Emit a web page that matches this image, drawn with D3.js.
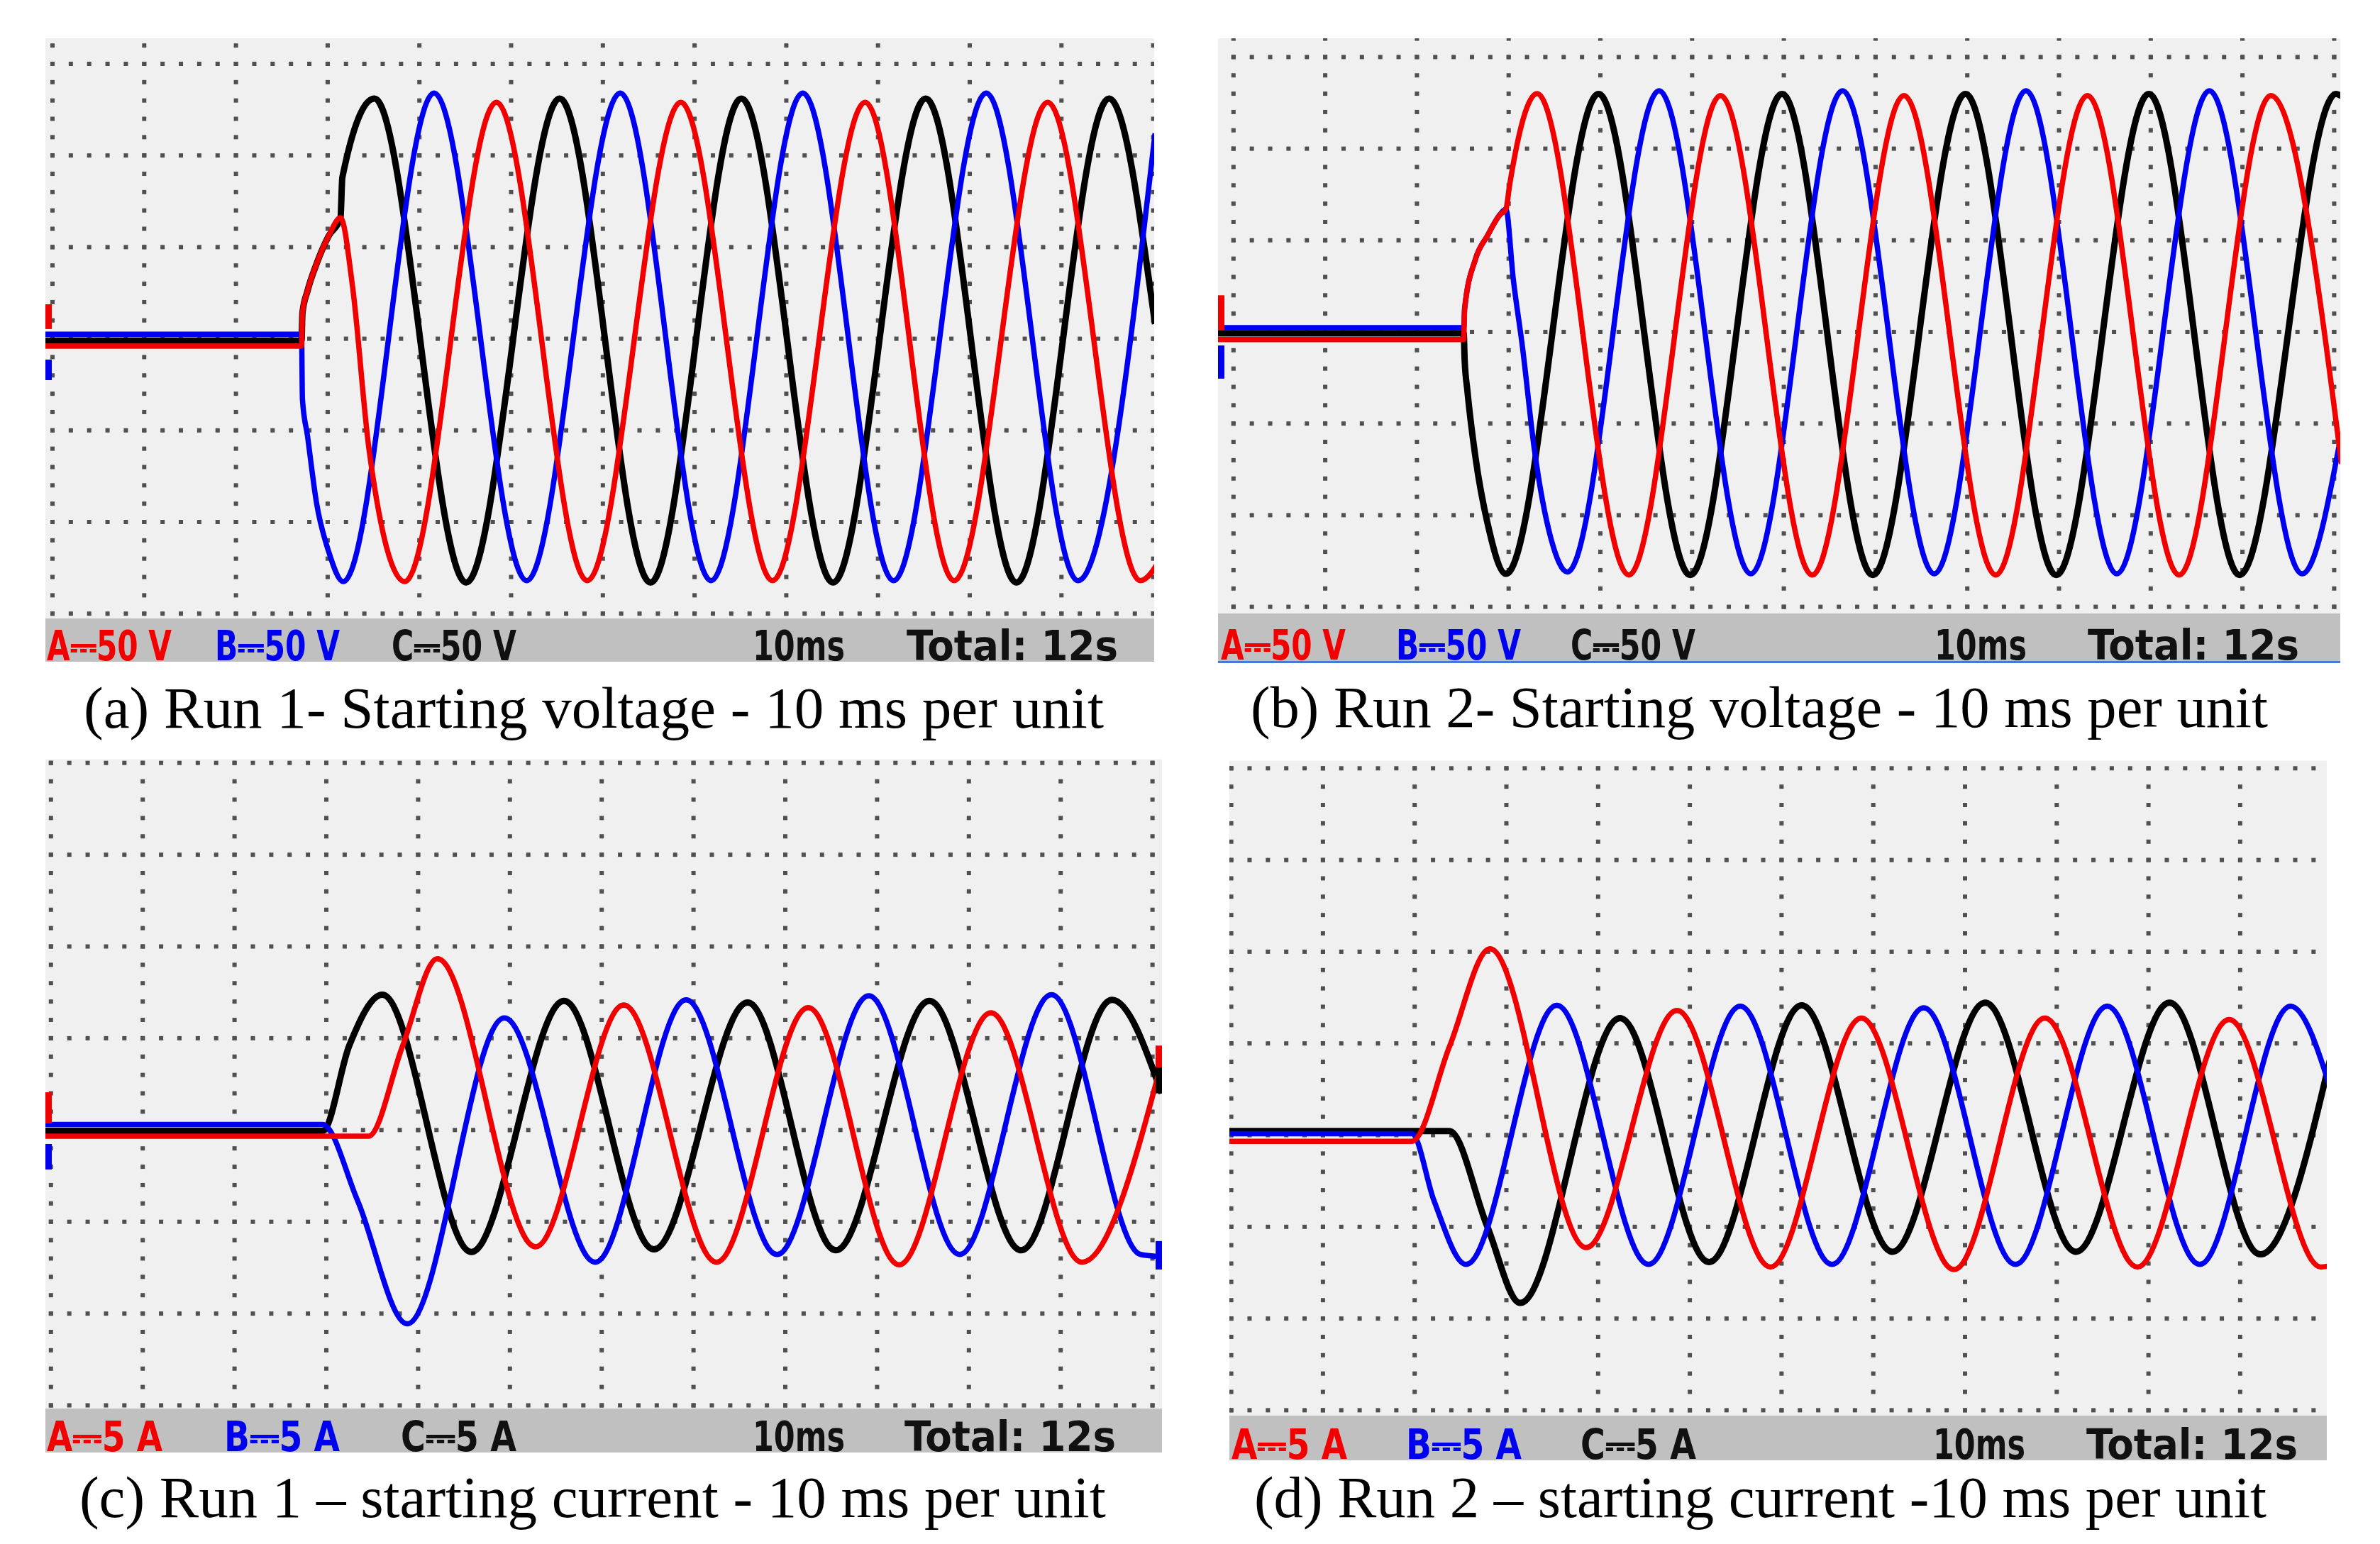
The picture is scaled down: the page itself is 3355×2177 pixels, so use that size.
<!DOCTYPE html>
<html>
<head>
<meta charset="utf-8">
<script src="https://cdn.jsdelivr.net/npm/d3@7"></script>
<style>
  body { margin: 0; background: #fff; }
</style>
</head>
<body>
<div id="chart"></div>
<script>
// Oscilloscope captures of motor starting: phase A (red), B (blue), C (black)
// Each series is [time in ms, value] (10 ms/div)

const captions = [
  '(a) Run 1- Starting voltage - 10 ms per unit',
  '(b) Run 2- Starting voltage - 10 ms per unit',
  '(c) Run 1 \u2013 starting current - 10 ms per unit',
  '(d) Run 2 \u2013 starting current -10 ms per unit'
];
const voltageLabels = ['A\u239350 V', 'B\u239350 V', 'C\u239350 V'];
const currentLabels = ['A\u23935 A', 'B\u23935 A', 'C\u23935 A'];
const timebaseLabel = '10ms';
const totalLabel = 'Total: 12s';

// (a) Run 1 voltage, volts
const runOneVoltageA = [[-1, -4], [27.15, -4], [27.25, 14], [27.8, 26], [28.8, 41], [30.1, 56], [31.4, 66], [32.7, 29],
  [34.5, -60], [38.4, -132.5], [48.4, 129], [58.3, -132], [68.5, 129], [78.5, -132], [88.6, 129], [98.3, -132],
  [108.5, 129], [118.6, -132], [121, -118]];
const runOneVoltageB = [[-1, 2.5], [27.15, 2.5], [27.25, -33], [27.8, -53], [28.8, -90], [30.1, -116], [31.7, -132.5],
  [41.6, 134], [51.7, -132], [61.9, 134], [71.8, -132], [81.8, 134], [91.7, -132], [101.8, 134], [111.8, -132], [120.2, 112]];
const runOneVoltageC = [[-1, -1], [27.15, -1], [27.25, 14], [27.8, 26], [28.8, 41], [30.1, 56], [31.4, 66], [31.6, 88],
  [35.1, 131], [45.1, -133], [55.3, 131], [65.2, -133], [75.1, 131], [85.1, -133], [95.2, 131], [105.1, -133],
  [115.2, 131], [120.2, 8]];

// (b) Run 2 voltage, volts
const runTwoVoltageA = [[-2, -4.2], [25.1, -4.2], [25.2, 12.7], [26.4, 40], [27.7, 52.6], [29.0, 63.7], [29.7, 67], [30.1, 80],
  [33.1, 130], [43.1, -132.6], [53.1, 129], [63.1, -132.6], [73.1, 129], [83.1, -132.6], [93.1, 129], [103.1, -132.6],
  [113.1, 129], [120.8, -72]];
const runTwoVoltageB = [[-2, 2.3], [25.1, 2.3], [25.2, 12.7], [26.4, 40], [27.7, 52.6], [29.0, 63.7], [29.7, 67], [30.5, 29],
  [31.5, -8], [32.8, -64], [34.6, -112.5], [36.4, -131], [46.4, 131.6], [56.4, -132], [66.4, 131.6], [76.4, -132],
  [86.4, 131.6], [96.3, -132], [106.4, 131.6], [116.5, -132], [120.8, -55]];
const runTwoVoltageC = [[-2, -0.8], [25.1, -0.8], [25.2, -15], [25.5, -32], [26.4, -69], [27.7, -104.5], [29.7, -132],
  [39.8, 129.8], [49.8, -132.6], [59.8, 129.8], [69.7, -132.6], [79.8, 129.8], [89.7, -132.6], [99.8, 129.8],
  [109.7, -132.6], [120.2, 129.8], [121, 128]];

// (c) Run 1 current, amps
const runOneCurrentA = [[-1, -0.34], [34.6, -0.34], [38.3, 4.57], [42.1, 9.33], [52.8, -6.36], [62.4, 6.81], [72.5, -7.2],
  [82.5, 6.67], [92.4, -7.34], [102.4, 6.39], [112.3, -7.2], [121, 3.7]];
const runOneCurrentB = [[-1, 0.3], [29.6, 0.3], [33.4, -3.84], [38.8, -10.56], [49.4, 6.11], [59.3, -7.2], [69.2, 7.09],
  [79.1, -6.78], [89.1, 7.31], [99.0, -6.78], [109.0, 7.37], [118.7, -6.78], [121, -6.9]];
const runOneCurrentC = [[-1, -0.05], [29.6, -0.05], [32.5, 4.6], [36.1, 7.37], [45.8, -6.64], [55.9, 7.03], [65.7, -6.5],
  [75.9, 6.95], [85.5, -6.55], [95.7, 7.03], [105.7, -6.55], [115.6, 7.09], [121, 2.0]];

// (d) Run 2 current, amps
const runTwoCurrentA = [[-1, -0.34], [19.7, -0.34], [23.8, 4.84], [28.2, 10.16], [38.7, -6.13], [48.6, 6.8], [58.8, -7.19],
  [68.7, 6.38], [78.8, -7.33], [88.7, 6.38], [98.8, -7.19], [108.8, 6.3], [118.8, -7.19], [120, -7.1]];
const runTwoCurrentB = [[-1, 0.08], [19.7, 0.08], [22.1, -3.56], [25.6, -7.05], [35.5, 7.08], [45.5, -7.05], [55.5, 7.03],
  [65.5, -7.05], [75.5, 6.94], [85.5, -7.05], [95.5, 7.03], [105.6, -7.05], [115.5, 7.03], [120, 2.3]];
const runTwoCurrentC = [[-1, 0.22], [23.8, 0.22], [27.9, -4.96], [31.5, -9.15], [42.4, 6.38], [52.1, -6.92], [62.2, 7.08],
  [72.1, -6.36], [82.2, 7.22], [92.1, -6.36], [102.3, 7.22], [112.2, -6.5], [120, 4.56]];

const phaseColors = { A: '#f20000', B: '#0000f0', C: '#000000' };

// screen geometry of the four captures (pixels)
const panels = [
  { left: 64, right: 1627, top: 54, barTop: 872, barBottom: 933, x0: 74, dx: 129.3, yZero: 477.6, dy: 129.2, perDiv: 50,
    series: { A: runOneVoltageA, B: runOneVoltageB, C: runOneVoltageC }, labels: voltageLabels, labelW: 176,
    labelX: [2, 239, 488, 997, 1214], caption: captions[0], capX: [118, 1556], capY: 1026,
    markers: [{ c: 'A', side: 'l', v: [18.8, 5.3] }, { c: 'B', side: 'l', v: [-11.4, -22.6] }] },
  { left: 1717, right: 3299, top: 54, barTop: 865, barBottom: 932, x0: 1738.8, dx: 129.3, yZero: 468, dy: 129.2, perDiv: 50,
    series: { A: runTwoVoltageA, B: runTwoVoltageB, C: runTwoVoltageC }, labels: voltageLabels, labelW: 176,
    labelX: [4, 251, 497, 1010, 1226], caption: captions[1], capX: [1763, 3197], capY: 1025, blueRule: true,
    markers: [{ c: 'A', side: 'l', v: [20, 0.8] }, { c: 'B', side: 'l', v: [-7.4, -25.5] }] },
  { left: 64, right: 1638, top: 1070.5, barTop: 1986, barBottom: 2048, x0: 71.8, dx: 129.4, yZero: 1593.3, dy: 129.4, perDiv: 5,
    series: { A: runOneCurrentA, B: runOneCurrentB, C: runOneCurrentC }, labels: currentLabels, labelW: 163,
    labelX: [2, 252, 501, 997, 1211], caption: captions[2], capX: [112, 1559], capY: 2139,
    markers: [{ c: 'A', side: 'l', v: [2.06, 0.36] }, { c: 'B', side: 'l', v: [-0.76, -2.15] },
      { c: 'A', side: 'r', v: [4.6, 2.3] }, { c: 'C', side: 'r', v: [3.4, 2.0] }, { c: 'B', side: 'r', v: [-6.05, -7.6] }] },
  { left: 1733, right: 3280, top: 1072.6, barTop: 1996, barBottom: 2059, x0: 1735.6, dx: 129.3, yZero: 1600.5, dy: 129.3, perDiv: 5,
    series: { A: runTwoCurrentA, B: runTwoCurrentB, C: runTwoCurrentC }, labels: currentLabels, labelW: 163,
    labelX: [3, 249, 495, 992, 1208], caption: captions[3], capX: [1768, 3195], capY: 2139,
    markers: [] }
];

const svg = d3.select('#chart')
  .append('svg')
  .attr('width', 3355)
  .attr('height', 2177)
  .style('background', '#fff');

panels.forEach((p, i) => {
  const g = svg.append('g').attr('class', 'panel');

  // time axis 0..120 ms over 12 divisions, value axis perDiv per division
  const x = d3.scaleLinear().domain([0, 120]).range([p.x0, p.x0 + 12 * p.dx]);
  const y = d3.scaleLinear().domain([0, p.perDiv]).range([p.yZero, p.yZero - p.dy]);

  const clipId = `screen-${i}`;
  g.append('clipPath').attr('id', clipId)
    .append('rect')
    .attr('x', p.left).attr('y', p.top)
    .attr('width', p.right - p.left).attr('height', p.barTop - p.top);

  // screen background
  g.append('rect')
    .attr('x', p.left).attr('y', p.top)
    .attr('width', p.right - p.left).attr('height', p.barTop - p.top)
    .attr('fill', '#f0f0f0');

  // dotted graticule
  const tMin = x.invert(p.left), tMax = x.invert(p.right);
  const vMax = y.invert(p.top), vMin = y.invert(p.barTop);
  const vertTimes = d3.range(0, 121, 10).filter(t => t >= tMin - 0.1 && t <= tMax + 0.1);
  const rowVals = d3.range(-8, 9).map(k => k * p.perDiv).filter(v => v <= vMax + 0.01 && v >= vMin - 0.01);
  const dotV = d3.range(Math.ceil(vMin / (p.perDiv / 5)), Math.floor(vMax / (p.perDiv / 5)) + 1).map(k => k * p.perDiv / 5);
  const dotT = d3.range(Math.ceil(tMin / 2), Math.floor(tMax / 2) + 1).map(k => k * 2);

  const dots = [];
  vertTimes.forEach(t => dotV.forEach(v => dots.push([t, v])));
  rowVals.forEach(v => dotT.forEach(t => dots.push([t, v])));

  const ds = 6;
  g.append('g').attr('class', 'grid')
    .attr('clip-path', `url(#${clipId})`)
    .selectAll('rect')
    .data(dots)
    .join('rect')
    .attr('x', d => x(d[0]) - ds / 2)
    .attr('y', d => y(d[1]) - ds / 2)
    .attr('width', ds)
    .attr('height', ds)
    .attr('fill', '#505050');

  // traces
  const line = d3.line()
    .x(d => x(d[0]))
    .y(d => y(d[1]))
    .curve(d3.curveMonotoneX);

  const traces = g.append('g').attr('clip-path', `url(#${clipId})`);
  ['C', 'B', 'A'].forEach(ch => {
    traces.append('path')
      .datum(p.series[ch])
      .attr('d', line)
      .attr('fill', 'none')
      .attr('stroke', phaseColors[ch])
      .attr('stroke-width', ch === 'C' ? 9 : 7.5)
      .attr('stroke-linejoin', 'round');
  });

  // channel zero markers at the screen edges
  g.append('g').selectAll('rect')
    .data(p.markers)
    .join('rect')
    .attr('x', d => d.side === 'l' ? p.left : p.right - 9)
    .attr('y', d => y(d.v[0]))
    .attr('width', 9)
    .attr('height', d => y(d.v[1]) - y(d.v[0]))
    .attr('fill', d => phaseColors[d.c]);

  // status bar
  g.append('rect')
    .attr('x', p.left).attr('y', p.barTop)
    .attr('width', p.right - p.left).attr('height', p.barBottom - p.barTop)
    .attr('fill', '#c0c0c0');
  if (p.blueRule) {
    g.append('rect')
      .attr('x', p.left).attr('y', p.barBottom)
      .attr('width', p.right - p.left).attr('height', 3)
      .attr('fill', '#4a78d8');
  }

  const barItems = [
    { text: p.labels[0], fill: phaseColors.A, w: p.labelW },
    { text: p.labels[1], fill: phaseColors.B, w: p.labelW },
    { text: p.labels[2], fill: '#111', w: p.labelW },
    { text: timebaseLabel, fill: '#111', w: 130 },
    { text: totalLabel, fill: '#111', w: 298 }
  ];
  g.append('g').selectAll('text')
    .data(barItems)
    .join('text')
    .attr('x', (d, j) => p.left + p.labelX[j])
    .attr('y', p.barBottom - 2)
    .attr('font-family', '"DejaVu Sans Condensed", "DejaVu Sans", sans-serif')
    .attr('font-weight', 'bold')
    .attr('font-size', 58)
    .attr('fill', d => d.fill)
    .attr('textLength', d => d.w)
    .attr('lengthAdjust', 'spacingAndGlyphs')
    .text(d => d.text);

  // caption, sized to span its measured width
  const cap = g.append('text')
    .attr('x', p.capX[0])
    .attr('y', p.capY)
    .attr('font-family', '"Liberation Serif", "Times New Roman", serif')
    .attr('font-size', 100)
    .attr('fill', '#000')
    .text(p.caption);
  const w = cap.node().getComputedTextLength();
  cap.attr('font-size', 100 * (p.capX[1] - p.capX[0]) / w);
});
</script>
</body>
</html>
